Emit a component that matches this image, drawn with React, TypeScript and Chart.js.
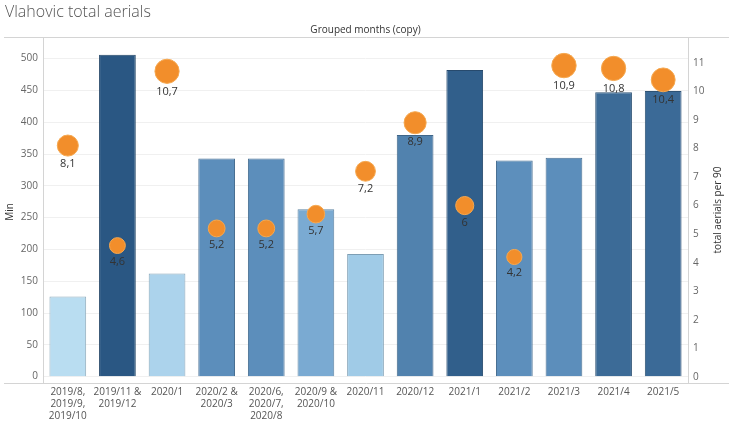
import React, { useEffect, useRef } from "react";
import { Chart, registerables } from "chart.js";

Chart.register(...registerables);

const categories: (string | string[])[] = [
  ["2019/8,", "2019/9,", "2019/10"],
  ["2019/11 &", "2019/12"],
  "2020/1",
  ["2020/2 &", "2020/3"],
  ["2020/6,", "2020/7,", "2020/8"],
  ["2020/9 &", "2020/10"],
  "2020/11",
  "2020/12",
  "2021/1",
  "2021/2",
  "2021/3",
  "2021/4",
  "2021/5",
];

const minutes = [126, 506, 162, 343, 343, 263, 193, 380, 482, 340, 344, 447, 449];
const aerialsPer90 = [8.1, 4.6, 10.7, 5.2, 5.2, 5.7, 7.2, 8.9, 6, 4.2, 10.9, 10.8, 10.4];

const minTicks = [0, 50, 100, 150, 200, 250, 300, 350, 400, 450, 500];
const per90Ticks = [0, 1, 2, 3, 4, 5, 6, 7, 8, 9, 10, 11];

const FONT = "'Open Sans', 'DejaVu Sans', sans-serif";

const colorStops: [number, number[]][] = [
  [126, [185, 221, 241]],
  [193, [160, 203, 231]],
  [263, [122, 170, 210]],
  [343, [92, 142, 187]],
  [506, [42, 87, 131]],
];

function rampColor(v: number, k = 1): string {
  let c = colorStops[colorStops.length - 1][1];
  if (v <= colorStops[0][0]) c = colorStops[0][1];
  for (let i = 0; i < colorStops.length - 1; i++) {
    const [a, ca] = colorStops[i];
    const [b, cb] = colorStops[i + 1];
    if (v >= a && v <= b) {
      const t = (v - a) / (b - a);
      c = ca.map((x, j) => x + (cb[j] - x) * t);
      break;
    }
  }
  return `rgb(${c.map((x) => Math.round(x * k)).join(",")})`;
}

const bubbleRadius = (v: number) => 3.7 * Math.sqrt(v);

const decorPlugin = {
  id: "decor",
  afterDatasetsDraw(chart: any) {
    const ctx = chart.ctx;
    const meta = chart.getDatasetMeta(0);
    ctx.save();
    ctx.fillStyle = "#333";
    ctx.font = `11px ${FONT}`;
    ctx.textAlign = "center";
    ctx.textBaseline = "middle";
    meta.data.forEach((pt: any, i: number) => {
      const v = aerialsPer90[i];
      const r = bubbleRadius(v);
      ctx.fillText(String(v).replace(".", ","), pt.x, pt.y + r + 8);
    });
    ctx.restore();
  },
  afterDraw(chart: any) {
    const ctx = chart.ctx;
    const a = chart.chartArea;
    ctx.save();
    // title
    ctx.fillStyle = "#555";
    ctx.font = `300 16px ${FONT}`;
    ctx.textAlign = "left";
    ctx.textBaseline = "middle";
    ctx.fillText("Vlahovic total aerials", 5, 12);
    // header
    ctx.fillStyle = "#333";
    ctx.font = `10px ${FONT}`;
    ctx.textAlign = "center";
    ctx.fillText("Grouped months (copy)", (a.left + a.right) / 2, 30);
    // lines
    ctx.strokeStyle = "#d4d4d4";
    ctx.lineWidth = 1;
    ctx.beginPath();
    ctx.moveTo(4, a.top + 0.5);
    ctx.lineTo(729, a.top + 0.5);
    ctx.moveTo(4, a.bottom + 0.5);
    ctx.lineTo(729, a.bottom + 0.5);
    ctx.moveTo(a.left + 0.5, a.top);
    ctx.lineTo(a.left + 0.5, a.bottom);
    ctx.moveTo(a.right + 0.5, a.top);
    ctx.lineTo(a.right + 0.5, a.bottom);
    ctx.stroke();
    // axis titles
    ctx.fillStyle = "#333";
    ctx.font = `10px ${FONT}`;
    ctx.save();
    ctx.translate(10, 212);
    ctx.rotate(-Math.PI / 2);
    ctx.fillText("Min", 0, 0);
    ctx.restore();
    ctx.save();
    ctx.translate(718, 210);
    ctx.rotate(-Math.PI / 2);
    ctx.fillText("total aerials per 90", 0, 0);
    ctx.restore();
    ctx.restore();
  },
};

export default function App() {
  const ref = useRef<HTMLCanvasElement>(null);
  useEffect(() => {
    if (!ref.current) return;
    const tickFont = { family: FONT, size: 10 };
    const chart = new Chart(ref.current, {
      data: {
        labels: categories,
        datasets: [
          {
            type: "line",
            label: "total aerials per 90",
            data: aerialsPer90,
            yAxisID: "y1",
            showLine: false,
            order: 0,
            backgroundColor: "#f28e2b",
            borderColor: "#f5a850",
            pointBorderWidth: 1,
            pointRadius: (c: any) => bubbleRadius(aerialsPer90[c.dataIndex]),
            pointHoverRadius: (c: any) => bubbleRadius(aerialsPer90[c.dataIndex]),
          } as any,
          {
            type: "bar",
            label: "Min",
            data: minutes,
            yAxisID: "y",
            order: 1,
            backgroundColor: minutes.map((v) => rampColor(v)),
            borderColor: minutes.map((v) => rampColor(v, 0.78)),
            borderWidth: 1,
            barPercentage: 0.74,
            categoryPercentage: 1,
          } as any,
        ],
      },
      options: {
        animation: false,
        responsive: false,
        devicePixelRatio: 1,
        layout: { padding: { top: 37, left: 0, right: 0, bottom: 0 }, autoPadding: false },
        plugins: { legend: { display: false }, tooltip: { enabled: false }, title: { display: false } },
        scales: {
          x: {
            type: "category",
            offset: true,
            grid: { display: false, drawTicks: false },
            border: { display: false },
            ticks: { color: "#555", font: { ...tickFont, size: 10, lineHeight: 1.2 }, padding: 3, maxRotation: 0, autoSkip: false },
            afterFit: (s: any) => { s.height = 52; },
          },
          y: {
            position: "left",
            min: -10,
            max: 534,
            afterBuildTicks: (s: any) => { s.ticks = minTicks.map((v) => ({ value: v })); },
            grid: { color: "#f0f0f0", drawTicks: false },
            border: { display: false },
            ticks: { color: "#666", font: tickFont, padding: 5 },
            afterFit: (s: any) => { s.width = 43; },
          },
          y1: {
            position: "right",
            min: -0.21,
            max: 11.9,
            afterBuildTicks: (s: any) => { s.ticks = per90Ticks.map((v) => ({ value: v })); },
            grid: { display: false, drawTicks: false },
            border: { display: false },
            ticks: { color: "#666", font: tickFont, padding: 5 },
            afterFit: (s: any) => { s.width = 42; },
          },
        },
      } as any,
      plugins: [decorPlugin],
    } as any);
    return () => chart.destroy();
  }, []);
  return (
    <div style={{ position: "fixed", left: 0, top: 0, width: 730, height: 435, background: "#fff" }}>
      <canvas ref={ref} width={730} height={435} style={{ display: "block" }} />
    </div>
  );
}
